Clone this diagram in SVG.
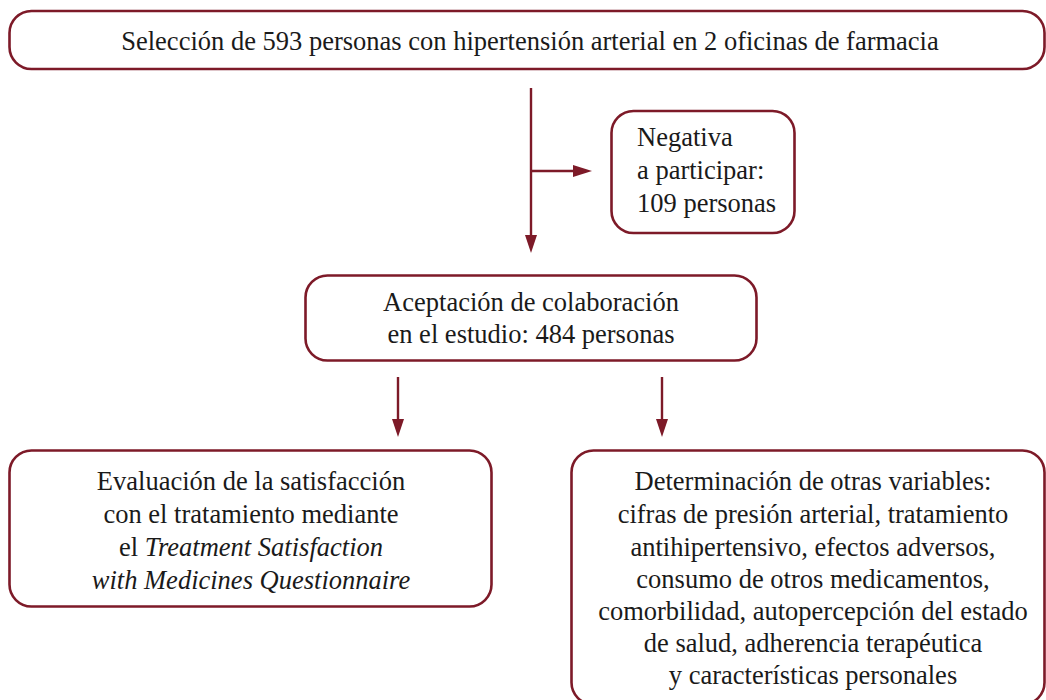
<svg xmlns="http://www.w3.org/2000/svg" width="1046" height="700" viewBox="0 0 1046 700">
<style>
.box{fill:#fff;stroke:#7d1a28;stroke-width:2.6}
.t{font-family:"Liberation Serif","Times New Roman",serif;font-size:26.5px;fill:#1a1a1a}
.c{text-anchor:middle}
.ln{stroke:#7d1a28;stroke-width:2.4;fill:none}
.ah{fill:#7d1a28}
</style>
<rect width="1046" height="700" fill="#fff"/>
<g id="connectors">
<path class="ln" d="M531,88 V236"/>
<path class="ah" d="M525,235 L537,235 L531,253 z"/>
<path class="ln" d="M531,171 H574"/>
<path class="ah" d="M573,165 L573,177 L592,171 z"/>
<path class="ln" d="M398,377 V420"/>
<path class="ah" d="M392,419 L404,419 L398,437 z"/>
<path class="ln" d="M662,377 V420"/>
<path class="ah" d="M656,419 L668,419 L662,437 z"/>
</g>
<g id="n1">
<rect class="box" x="9.5" y="11" width="1035" height="58" rx="22"/>
<text class="t c" x="530" y="50">Selección de 593 personas con hipertensión arterial en 2 oficinas de farmacia</text>
</g>
<g id="n2">
<rect class="box" x="611.5" y="111" width="183" height="122" rx="22"/>
<text class="t" x="637" y="146">Negativa</text>
<text class="t" x="637" y="179">a participar:</text>
<text class="t" x="637" y="212">109 personas</text>
</g>
<g id="n3">
<rect class="box" x="305.5" y="275.5" width="451" height="85" rx="22"/>
<text class="t c" x="531" y="311">Aceptación de colaboración</text>
<text class="t c" x="531" y="343">en el estudio: 484 personas</text>
</g>
<g id="n4">
<rect class="box" x="9.5" y="450.5" width="482" height="156" rx="22"/>
<text class="t c" x="251" y="490">Evaluación de la satisfacción</text>
<text class="t c" x="251" y="523">con el tratamiento mediante</text>
<text class="t c" x="251" y="556">el <tspan font-style="italic">Treatment Satisfaction</tspan></text>
<text class="t c" x="251" y="589" font-style="italic">with Medicines Questionnaire</text>
</g>
<g id="n5">
<rect class="box" x="571.5" y="450.5" width="473" height="254" rx="22"/>
<text class="t c" x="813" y="490">Determinación de otras variables:</text>
<text class="t c" x="813" y="523">cifras de presión arterial, tratamiento</text>
<text class="t c" x="813" y="556">antihipertensivo, efectos adversos,</text>
<text class="t c" x="813" y="588">consumo de otros medicamentos,</text>
<text class="t c" x="813" y="620">comorbilidad, autopercepción del estado</text>
<text class="t c" x="813" y="652">de salud, adherencia terapéutica</text>
<text class="t c" x="813" y="684">y características personales</text>
</g>
</svg>
